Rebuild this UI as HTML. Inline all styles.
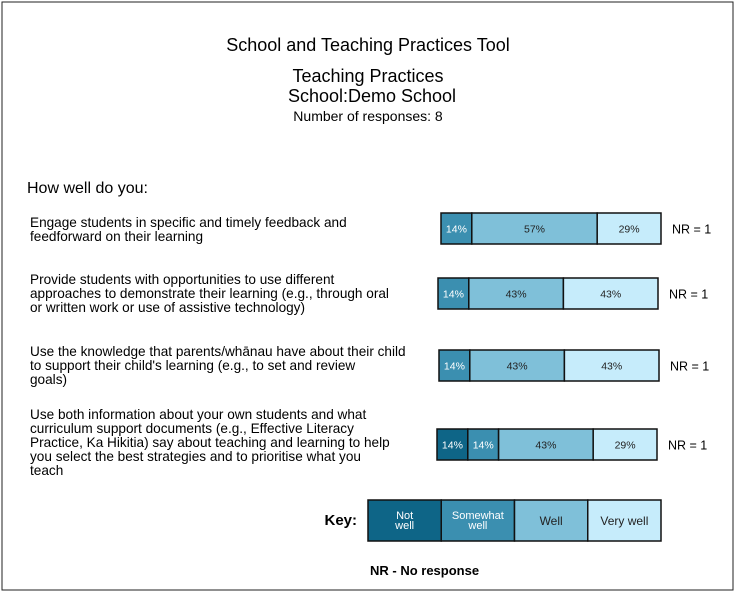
<!DOCTYPE html>
<html><head><meta charset="utf-8"><style>
body{margin:0;background:#fff;font-family:"Liberation Sans",sans-serif;}
svg text{font-family:"Liberation Sans",sans-serif;}
</style></head><body>
<svg width="737" height="594" xmlns="http://www.w3.org/2000/svg">
<rect x="2" y="2" width="731" height="588" fill="#fff" stroke="#222" stroke-width="1"/>
<text x="368" y="51" font-size="18" text-anchor="middle">School and Teaching Practices Tool</text>
<text x="368" y="82" font-size="18" text-anchor="middle">Teaching Practices</text>
<text x="372" y="102" font-size="18" text-anchor="middle">School:Demo School</text>
<text x="368" y="121" font-size="14" text-anchor="middle">Number of responses: 8</text>
<text x="27" y="193" font-size="16">How well do you:</text>
<g id="rows"></g>
<text x="357" y="525" font-size="15" font-weight="bold" text-anchor="end">Key:</text>
<g id="key"></g>
<text x="370" y="575" font-size="13" font-weight="bold">NR - No response</text>
</svg>
<script>
const questions=[
 ["Engage students in specific and timely feedback and","feedforward on their learning"],
 ["Provide students with opportunities to use different","approaches to demonstrate their learning (e.g., through oral","or written work or use of assistive technology)"],
 ["Use the knowledge that parents/whānau have about their child","to support their child's learning (e.g., to set and review","goals)"],
 ["Use both information about your own students and what","curriculum support documents (e.g., Effective Literacy","Practice, Ka Hikitia) say about teaching and learning to help","you select the best strategies and to prioritise what you","teach"]
];
const notWell=[0,0,0,14];
const somewhatWell=[14,14,14,14];
const well=[57,43,43,43];
const veryWell=[29,43,43,29];
const nr=[1,1,1,1];
const categories=["Not well","Somewhat well","Well","Very well"];
const colors=["#0e6587","#3b8fb0","#7fc0d9","#c6ecfb"];
const textCols=["#fff","#fff","#222","#222"];
const barX=[441,438,439,437], barY=[213,278,350,429], textY=[227,284,356,419];
const barW=220,barH=31;
const NS="http://www.w3.org/2000/svg";
const rows=document.getElementById('rows');
function mk(t,a){const e=document.createElementNS(NS,t);for(const k in a)e.setAttribute(k,a[k]);return e;}
questions.forEach((q,i)=>{
 q.forEach((l,j)=>{const t=mk('text',{x:30,y:textY[i]+j*14,'font-size':13.6});
  
  
  t.textContent=l;rows.appendChild(t);});
 const vals=[notWell[i],somewhatWell[i],well[i],veryWell[i]];
 const tot=vals.reduce((a,b)=>a+b,0);
 let x=barX[i];
 vals.forEach((v,k)=>{if(!v)return;const w=v/tot*barW;
  const r=mk('rect',{x:x,y:barY[i],width:w,height:barH,fill:colors[k],stroke:'#111','stroke-width':1.5});
  
  
  rows.appendChild(r);
  const t=mk('text',{x:x+w/2,y:barY[i]+barH/2+4,'font-size':10.5,'text-anchor':'middle',fill:textCols[k]});
  
  
  t.textContent=v+'%';rows.appendChild(t);x+=w;});
 const t=mk('text',{x:barX[i]+barW+11,y:barY[i]+barH/2+5,'font-size':12.5});
 
 
 t.textContent='NR = '+nr[i];rows.appendChild(t);
});
const key=document.getElementById('key');
const kx=368,ky=500,kw=73.25,kh=41;
const keyLines=[["Not","well"],["Somewhat","well"],["Well"],["Very well"]];
categories.forEach((c,k)=>{
 const r=mk('rect',{x:kx+k*kw,y:ky,width:kw,height:kh,fill:colors[k],stroke:'#111','stroke-width':1.5});
 
 
 key.appendChild(r);
 const ls=keyLines[k];
 ls.forEach((l,j)=>{const t=mk('text',{x:kx+k*kw+kw/2,y:ky+(ls.length==1?25:19+j*10),'font-size':ls.length==1?12:11,'text-anchor':'middle',fill:textCols[k]});
  
  
  t.textContent=l;key.appendChild(t);});
});
</script>
</body></html>
